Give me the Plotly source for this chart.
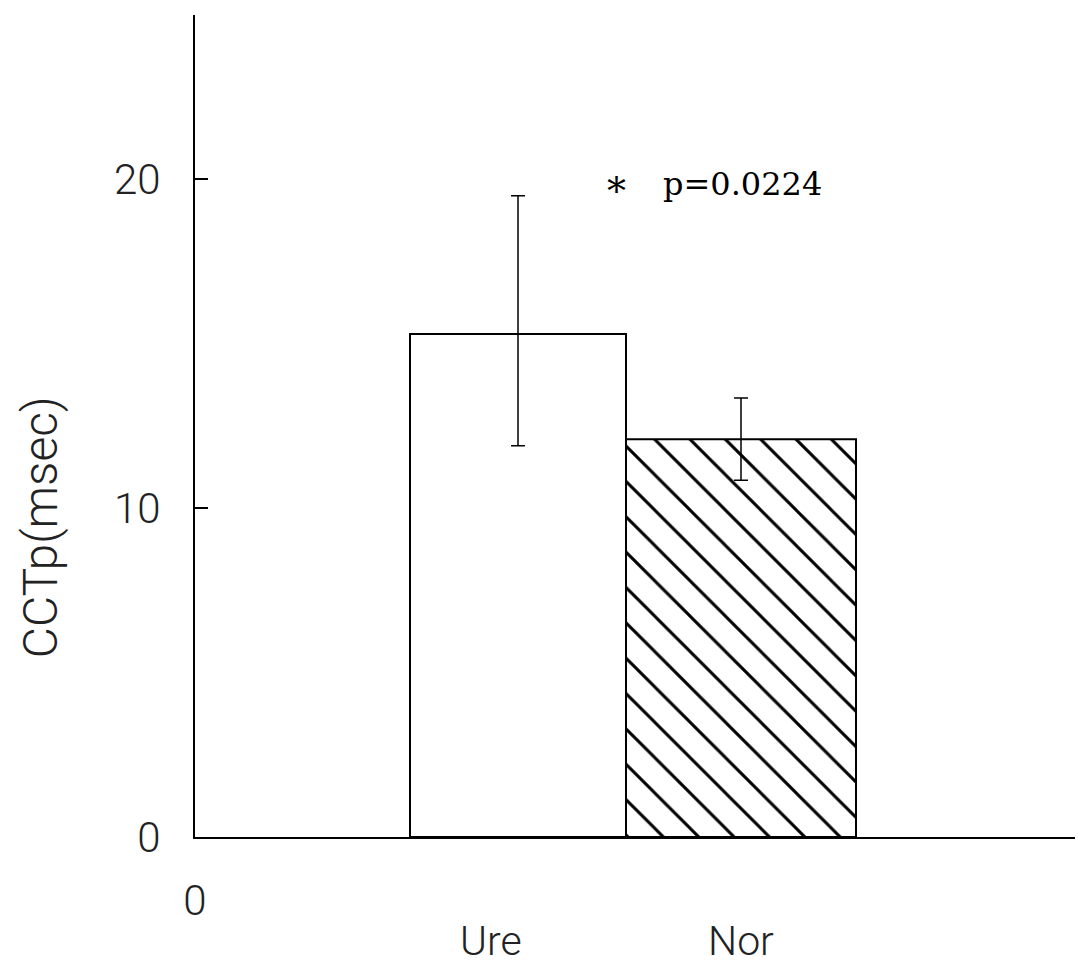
import plotly.graph_objects as go

# ---- data ----
groups = ["Ure", "Nor"]
means = [15.3, 12.1]
err_plus = [4.2, 1.25]
err_minus = [3.4, 1.25]
y_ticks = [0, 10, 20]
annotation_text = "p=0.0224"

# ---- layout constants (pixel-like x units) ----
W, H = 1078, 973
ML, MR, MT, MB = 195, 3, 15, 136
x_span = W - ML - MR
bar_centers = [323, 546]
bar_widths = [216, 230]
label_centers = [296, 546]

fig = go.Figure()
fig.add_trace(go.Bar(
    x=[bar_centers[0]], y=[means[0]], width=[bar_widths[0]],
    marker=dict(color="white", line=dict(color="black", width=2)),
    error_y=dict(type="data", symmetric=False, array=[err_plus[0]], arrayminus=[err_minus[0]],
                 color="black", thickness=1.5, width=7),
    showlegend=False, name=groups[0]))
fig.add_trace(go.Bar(
    x=[bar_centers[1]], y=[means[1]], width=[bar_widths[1]],
    marker=dict(color="white", line=dict(color="black", width=2),
                pattern=dict(shape="\\", size=25, solidity=0.12, fgcolor="black",
                             fgopacity=1, bgcolor="white", fillmode="overlay")),
    error_y=dict(type="data", symmetric=False, array=[err_plus[1]], arrayminus=[err_minus[1]],
                 color="black", thickness=1.5, width=7),
    showlegend=False, name=groups[1]))

tick_font = dict(family="Roboto", size=42, color="#222", weight=300)

fig.update_layout(
    width=W, height=H, autosize=False,
    margin=dict(l=ML, r=MR, t=MT, b=MB, pad=0),
    paper_bgcolor="white", plot_bgcolor="white",
    barmode="overlay",
    xaxis=dict(range=[0, x_span], showgrid=False, zeroline=False, showline=True,
               linecolor="black", linewidth=2, tickvals=[0], ticktext=["0"],
               ticks="", tickfont=tick_font, ticklabelstandoff=26, fixedrange=True),
    yaxis=dict(range=[0, 25], showgrid=False, zeroline=False, showline=True,
               linecolor="black", linewidth=2, tickvals=y_ticks,
               ticktext=[str(t) for t in y_ticks],
               ticks="inside", ticklen=13, tickwidth=2, tickcolor="black",
               tickfont=tick_font, ticklabelstandoff=24, fixedrange=True),
)

for g, lx in zip(groups, label_centers):
    fig.add_annotation(x=lx, y=-0.126, xref="x", yref="paper", text=g, showarrow=False,
                       font=dict(family="Roboto", size=41, color="#222", weight=300),
                       xanchor="center", yanchor="middle")

fig.add_annotation(x=-0.176, y=0.377, xref="paper", yref="paper", text="CCTp(msec)",
                   textangle=-90, showarrow=False,
                   font=dict(family="Roboto", size=48, color="#222", weight=300),
                   xanchor="center", yanchor="middle")

fig.add_annotation(x=421, y=19.65, xref="x", yref="y", text="*", showarrow=False,
                   font=dict(family="DejaVu Serif", size=38, color="black"),
                   xanchor="center", yanchor="middle")
fig.add_annotation(x=466, y=19.85, xref="x", yref="y", text=annotation_text, showarrow=False,
                   font=dict(family="DejaVu Serif", size=32, color="black"),
                   xanchor="left", yanchor="middle")

fig.write_html("out.html", config={"displayModeBar": False})
